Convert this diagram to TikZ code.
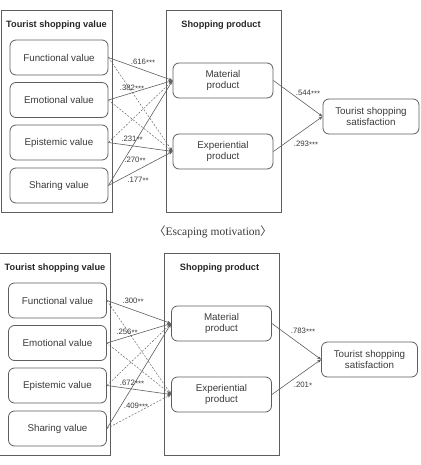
\documentclass[tikz,border=0pt]{standalone}
\usepackage{fontspec}
\setmainfont{Liberation Sans}
\newfontfamily\capfont{Liberation Serif}
\newfontfamily\cjkfont{Noto Sans CJK KR}
\usetikzlibrary{arrows.meta}
\definecolor{linegray}{HTML}{5E5E5E}
\definecolor{textgray}{HTML}{3A3A3A}
\newcommand{\stars}[1]{\raisebox{-1.1pt}{#1}}
\tikzset{
  outerbox/.style={draw=linegray, line width=0.9pt, minimum width=111pt, minimum height=202pt, inner sep=0pt},
  valbox/.style={draw=linegray, line width=0.8pt, rounded corners=6pt, minimum width=98pt, minimum height=35pt, inner sep=0pt, font=\fontsize{9.8}{11.5}\selectfont, text=textgray, align=center},
  prodbox/.style={valbox, minimum width=100pt},
  satbox/.style={valbox, minimum width=96pt},
  ttl/.style={font=\bfseries\fontsize{9.2}{11}\selectfont, text=black!85, inner sep=0pt},
  lab/.style={font=\fontsize{7.8}{9}\selectfont, text=textgray, inner sep=0pt},
  sig/.style={draw=linegray, line width=0.6pt, -{Stealth[length=4pt,width=3pt]}},
  nsig/.style={sig, dash pattern=on 2pt off 1.5pt, line width=0.45pt}
}
\newcommand{\drawpanel}[1]{%
  \node[outerbox] (#1L) at (56.5,111) {};
  \node[ttl] (#1Lt) at (56.5,25) {Tourist shopping value};
  \node[outerbox, minimum width=115pt] (#1M) at (223.5,111) {};
  \node[ttl] (#1Mt) at (221,25) {Shopping product};
  \node[valbox] (#1f) at (59,57.5) {Functional value};
  \node[valbox] (#1e) at (59,100) {Emotional value};
  \node[valbox] (#1p) at (59,142.5) {Epistemic value};
  \node[valbox] (#1s) at (59,185.5) {Sharing value};
  \node[prodbox] (#1m) at (223,80.5) {Material\\product};
  \node[prodbox] (#1x) at (223,151.5) {Experiential\\product};
  \node[satbox] (#1t) at (371,116.5) {Tourist shopping\\satisfaction};
}
\begin{document}
\begin{tikzpicture}[x=1pt,y=-1pt]
\useasboundingbox (0,0) rectangle (420,465);
% ---------- top panel ----------
\begin{scope}
  \drawpanel{A}
  \draw[nsig] (Af.east) -- (Ax.west);
  \draw[nsig] (Ae.east) -- (Ax.west);
  \draw[nsig] (Ap.east) -- (Am.west);
  \draw[sig] (Af.east) -- (Am.west);
  \draw[sig] (Ae.east) -- (Am.west);
  \draw[sig] (Ap.east) -- (Ax.west);
  \draw[sig] (As.east) -- (Am.west);
  \draw[sig] (As.east) -- (Ax.west);
  \draw[sig] (Am.east) -- (At.west);
  \draw[sig] (Ax.east) -- (At.west);
  \node[lab] (Al1) at (143,62) {.616\stars{***}};
  \node[lab] (Al2) at (132,88) {.382\stars{***}};
  \node[lab] (Al3) at (132,139) {.231\stars{**}};
  \node[lab] (Al4) at (135,160) {.270\stars{**}};
  \node[lab] (Al5) at (138,180) {.177\stars{**}};
  \node[lab] (Al6) at (308,93) {.544\stars{***}};
  \node[lab] (Al7) at (306,144) {.293\stars{***}};
\end{scope}
\node[font=\capfont\fontsize{11.5}{13}\selectfont, text=textgray] (cap) at (213,232) {{\cjkfont 〈}Escaping motivation{\cjkfont 〉}};
% ---------- bottom panel ----------
\begin{scope}[shift={(-1.5,243)}]
  \drawpanel{B}
  \draw[nsig] (Bf.east) -- (Bx.west);
  \draw[nsig] (Be.east) -- (Bx.west);
  \draw[nsig] (Bp.east) -- (Bm.west);
  \draw[nsig] (Bs.east) -- (Bx.west);
  \draw[sig] (Bf.east) -- (Bm.west);
  \draw[sig] (Be.east) -- (Bm.west);
  \draw[sig] (Bp.east) -- (Bx.west);
  \draw[sig] (Bs.east) -- (Bm.west);
  \draw[sig] (Bm.east) -- (Bt.west);
  \draw[sig] (Bx.east) -- (Bt.west);
  \node[lab] (Bl1) at (134.5,58) {.300\stars{**}};
  \node[lab] (Bl2) at (128.5,89) {.256\stars{**}};
  \node[lab] (Bl3) at (133.5,140) {.672\stars{***}};
  \node[lab] (Bl4) at (137.5,163) {.409\stars{***}};
  \node[lab] (Bl6) at (304.5,88) {.783\stars{***}};
  \node[lab] (Bl7) at (304.5,142) {.201\stars{*}};
\end{scope}
\end{tikzpicture}
\end{document}
